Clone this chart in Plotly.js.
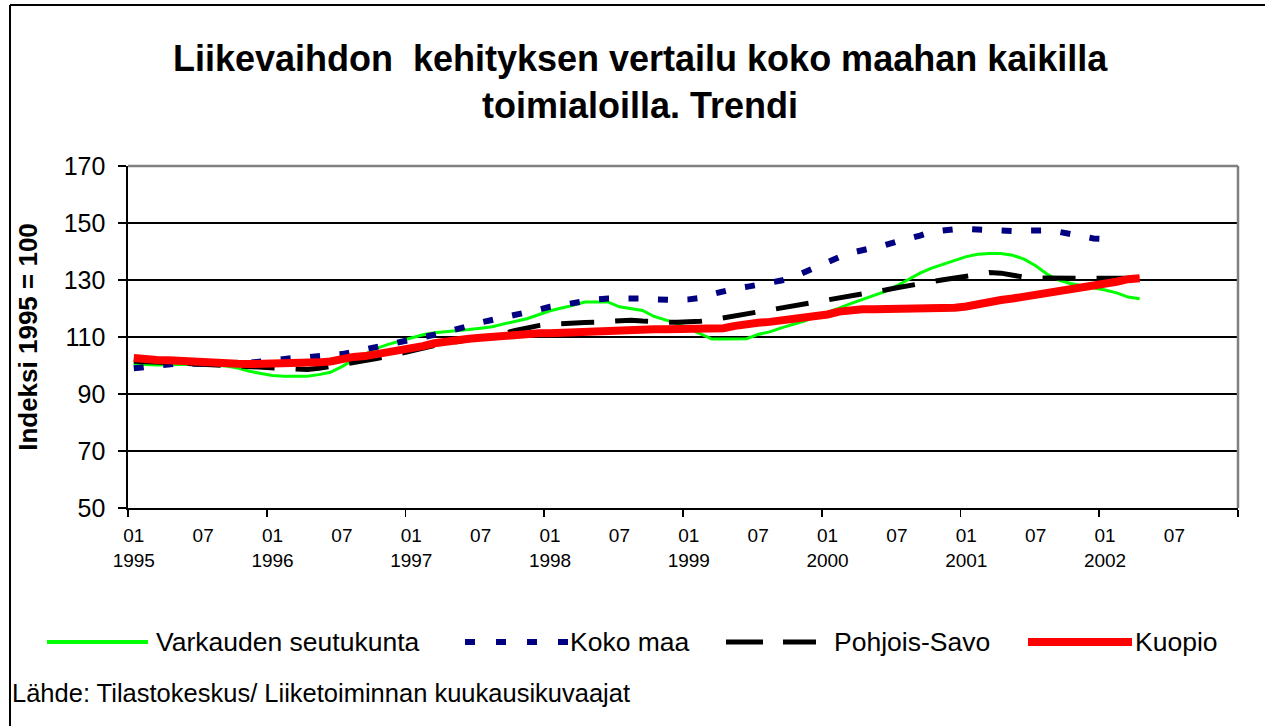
<!DOCTYPE html>
<html>
<head>
<meta charset="utf-8">
<script src="https://cdn.plot.ly/plotly-3.0.1.min.js"></script>
<style>html,body{margin:0;padding:0;background:#fff;}#chart{width:1265px;height:726px;}</style>
</head>
<body>
<div id="chart"></div>
<script>
// ---- data (monthly index, 01/1995 = 0) ----
const seriesNames = ['Varkauden seutukunta', 'Koko maa', 'Pohjois-Savo', 'Kuopio'];
const varkaus = [100.5,100.3,100.2,100.3,100.4,100.4,100.3,100.1,99.8,99.1,
 98.0,97.2,96.5,96.2,96.2,96.2,96.8,97.6,99.6,102.0,
 104.0,106.0,107.4,108.6,109.6,110.8,111.5,111.8,112.1,112.6,
 113.1,113.6,114.6,115.4,116.4,117.8,119.2,120.2,121.1,122.3,
 122.4,122.3,120.6,119.9,119.3,117.2,116.0,114.7,112.9,111.0,
 109.3,109.3,109.3,109.4,110.9,111.8,113.2,114.4,115.6,117.2,
 118.6,120.1,121.7,123.2,124.6,126.0,128.0,130.3,132.4,134.2,
 135.6,136.8,138.2,139.0,139.3,139.3,138.7,137.3,135.0,132.0,
 130.0,128.8,128.0,127.4,126.5,125.5,124.0,123.4];
const kokoMaa = [99.0,99.5,100.3,100.8,100.8,100.6,100.5,100.5,100.5,100.5,
 101.0,101.5,102.0,102.5,102.7,102.9,103.2,103.6,104.0,104.8,
 105.6,106.4,107.3,108.3,109.0,109.9,110.8,111.8,112.7,113.9,
 115.1,116.0,116.6,117.3,118.4,119.6,120.6,121.3,122.0,122.7,
 123.2,123.5,123.6,123.6,123.5,123.2,123.0,123.0,123.2,123.7,
 125.0,126.2,127.0,127.6,128.2,129.0,129.8,131.0,132.8,134.7,
 136.6,138.0,139.5,140.4,141.0,142.3,143.5,144.4,145.6,146.9,
 147.6,147.8,147.9,147.6,147.3,147.1,147.2,147.3,147.4,147.4,
 146.9,146.0,145.1,144.6,144.4,144.3];
const pohjoisSavo = [101.5,101.2,101.0,101.0,100.8,100.6,100.3,100.0,99.8,99.7,
 99.6,99.3,99.0,98.7,98.5,98.6,99.0,99.6,100.4,101.1,
 101.7,102.4,103.2,104.2,105.2,106.2,107.0,107.7,108.4,109.0,
 109.6,110.3,111.2,112.3,113.2,114.0,114.5,114.8,115.0,115.1,
 115.2,115.4,115.8,115.9,115.6,115.3,115.2,115.2,115.3,115.5,
 116.0,116.7,117.3,118.0,118.6,119.3,119.9,120.5,121.2,121.9,
 122.6,123.3,124.1,124.9,125.7,126.5,127.3,128.1,128.8,129.5,
 130.1,130.7,131.3,132.0,132.6,132.4,131.6,131.0,130.7,130.6,
 130.6,130.6,130.6,130.6,130.6,130.6,130.6,130.6];
const kuopio = [102.6,102.0,101.9,101.8,101.5,101.2,101.1,101.1,100.9,100.6,
 100.5,100.5,100.5,100.5,100.5,100.7,101.1,101.4,102.3,103.0,
 103.3,103.9,104.5,105.3,106.1,106.8,107.8,108.5,108.9,109.4,
 109.7,110.0,110.6,111.2,111.3,111.3,111.3,111.5,111.9,112.1,
 112.1,112.4,112.7,112.7,112.7,112.7,112.7,112.7,112.7,112.7,
 112.8,113.1,113.9,114.7,115.0,115.3,115.7,116.4,117.1,117.5,
 117.9,118.9,119.6,119.7,119.7,119.7,119.7,119.7,119.7,119.7,
 119.9,120.3,120.7,121.6,122.6,123.0,123.5,124.1,125.0,125.9,
 126.3,126.8,127.4,127.9,128.5,129.4,130.3,130.6];
const tickLabels = ['01<br>1995','07','01<br>1996','07','01<br>1997','07','01<br>1998','07',
 '01<br>1999','07','01<br>2000','07','01<br>2001','07','01<br>2002','07'];

// ---- layout helpers ----
const W = 1265, H = 726;
const PL = 128, PR = 1238, PT = 166, PB = 508;
const px2x = px => (px - PL) / (PR - PL);
const py2y = py => (PB - py) / (PB - PT);
const idx = arr => arr.map((_, i) => i);
const nMonths = 96;
const tickVals = tickLabels.map((_, k) => k * 6);
const yearBounds = Array.from({length: nMonths / 12 + 1}, (_, k) => k * 12 - 0.5);

const styles = [
  {color: '#00FF00', width: 3, dash: 'solid'},
  {color: '#000080', width: 6, dash: '10px,19.5px'},
  {color: '#000000', width: 5, dash: '33px,21px'},
  {color: '#FF0000', width: 8, dash: 'solid'}
];
const allData = [varkaus, kokoMaa, pohjoisSavo, kuopio];

const traces = allData.map((d, k) => ({
  type: 'scatter', mode: 'lines', name: seriesNames[k],
  x: idx(d), y: d, showlegend: false, hoverinfo: 'skip',
  line: {color: styles[k].color, width: styles[k].width, dash: styles[k].dash}
}));

// custom legend (pixel layout of the reference)
const legendY = 642;
const legendPos = [
  {x0: 47, x1: 148, tx: 154, w: 4, dash: 'solid'},
  {x0: 465, x1: 568, tx: 568, w: 6, dash: '10px,21px'},
  {x0: 726, x1: 816, tx: 832, w: 5, dash: '37px,20px'},
  {x0: 1028, x1: 1132, tx: 1133, w: 8, dash: 'solid'}
];
const shapes = [
  // plot area top & right border (grey)
  {type: 'line', xref: 'paper', yref: 'paper', x0: 0, x1: 1, y0: 1, y1: 1, line: {color: '#808080', width: 2.5}},
  {type: 'line', xref: 'paper', yref: 'paper', x0: 1, x1: 1, y0: 0, y1: 1, line: {color: '#808080', width: 2.5}},
  // outer chart frame (top & left)
  {type: 'line', xref: 'paper', yref: 'paper', x0: px2x(10), x1: px2x(1275), y0: py2y(5), y1: py2y(5), line: {color: '#000', width: 2}},
  {type: 'line', xref: 'paper', yref: 'paper', x0: px2x(10), x1: px2x(10), y0: py2y(5), y1: py2y(740), line: {color: '#000', width: 2}}
];
const annotations = [];
legendPos.forEach((p, k) => {
  shapes.push({type: 'line', xref: 'paper', yref: 'paper',
    x0: px2x(p.x0), x1: px2x(p.x1), y0: py2y(legendY), y1: py2y(legendY),
    line: {color: styles[k].color, width: p.w, dash: p.dash}});
  annotations.push({xref: 'paper', yref: 'paper', x: px2x(p.tx), y: py2y(legendY),
    xanchor: 'left', yanchor: 'middle', showarrow: false, text: seriesNames[k],
    font: {size: 26.5, color: '#000'}});
});
annotations.push({xref: 'paper', yref: 'paper', x: px2x(10), y: py2y(693),
  xanchor: 'left', yanchor: 'middle', showarrow: false,
  text: 'Lähde: Tilastokeskus/ Liiketoiminnan kuukausikuvaajat',
  font: {size: 25.5, color: '#000'}});

const layout = {
  width: W, height: H,
  margin: {l: PL, r: W - PR, t: PT, b: H - PB, pad: 0},
  paper_bgcolor: '#fff', plot_bgcolor: '#fff',
  font: {family: '"Liberation Sans", Arial, sans-serif', color: '#000'},
  showlegend: false,
  title: {
    text: 'Liikevaihdon\u00a0 kehityksen vertailu koko maahan kaikilla<br>toimialoilla. Trendi',
    font: {size: 36, weight: 'bold', color: '#000'},
    xref: 'container', x: 0.506, xanchor: 'center',
    yref: 'container', y: 1 - 71 / H, yanchor: 'top'
  },
  xaxis: {
    range: [-0.5, nMonths - 0.5], fixedrange: true,
    tickmode: 'array', tickvals: tickVals, ticktext: tickLabels,
    ticks: '', showgrid: false, zeroline: false,
    showline: true, linecolor: '#000', linewidth: 1.6,
    tickfont: {size: 19, color: '#000'}, ticklabelstandoff: 10,
    minor: {tickmode: 'array', tickvals: yearBounds, ticks: 'outside', ticklen: 7,
      tickcolor: '#000', tickwidth: 1.6, showgrid: false}
  },
  yaxis: {
    range: [50, 170], tick0: 50, dtick: 20, fixedrange: true,
    ticks: 'outside', ticklen: 8, tickwidth: 1.6, tickcolor: '#000',
    showline: true, linecolor: '#000', linewidth: 1.6,
    showgrid: true, gridcolor: '#000', gridwidth: 1.5, zeroline: false,
    tickfont: {size: 25, color: '#000'}, ticklabelstandoff: 8,
    title: {text: 'Indeksi 1995 = 100', font: {size: 26, weight: 'bold', color: '#000'}, standoff: 18}
  },
  shapes: shapes,
  annotations: annotations
};

Plotly.newPlot('chart', traces, layout, {staticPlot: true, displayModeBar: false});
</script>
</body>
</html>
